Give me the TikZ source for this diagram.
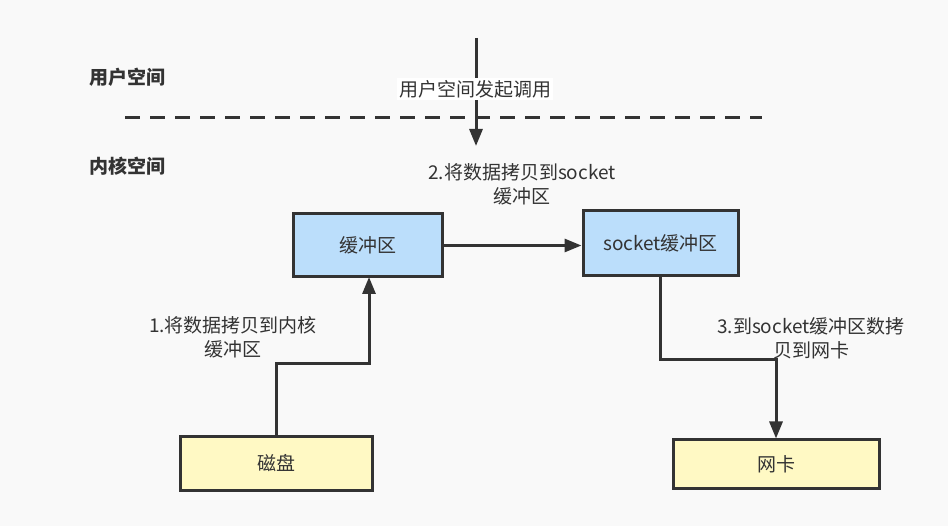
\documentclass[tikz,border=0pt]{standalone}
\usepackage{fontspec}
\setmainfont{Noto Sans CJK SC}
\usetikzlibrary{arrows.meta, positioning}
\definecolor{inkgray}{HTML}{333333}
\definecolor{bufblue}{HTML}{BBDEFB}
\definecolor{devyellow}{HTML}{FFF9C4}
\definecolor{paper}{HTML}{F9F9F9}

\begin{document}
\begin{tikzpicture}[x=1pt, y=-1pt,
    every node/.style={text=inkgray, font=\fontsize{19}{24}\selectfont},
    box/.style={draw=inkgray, line width=3pt, inner sep=0pt},
    bufbox/.style={box, fill=bufblue},
    devbox/.style={box, fill=devyellow},
    flow/.style={draw=inkgray, line width=3pt, -{Triangle[length=17pt, width=13pt]}},
    note/.style={align=center, inner sep=1pt}]
    \fill[paper] (0,0) rectangle (948,526);
    \useasboundingbox (0,0) rectangle (948,526);

    \node[font=\fontsize{19}{24}\selectfont\bfseries] (user) at (127,77) {用户空间};
    \node[font=\fontsize{19}{24}\selectfont\bfseries] (kernel) at (127,166) {内核空间};
    \coordinate (dashl) at (125,118);
    \coordinate (dashr) at (762,118);
    \draw[inkgray, line width=3pt, dash pattern=on 15pt off 10pt] (dashl) -- (dashr);

    \node[bufbox, minimum width=149pt, minimum height=63pt] (buf) at (367.5,245.5) {缓冲区};
    \node[bufbox, minimum width=155pt, minimum height=65pt] (sockbuf) at (660.5,243.5) {socket缓冲区};
    \node[devbox, minimum width=192pt, minimum height=53pt] (disk) at (276,463.5) {磁盘};
    \node[devbox, minimum width=206pt, minimum height=48pt] (nic) at (776,464) {网卡};

    \coordinate (call) at (476,38);
    \coordinate (callend) at (476,146);
    \draw[flow] (call) -- (callend);
    \node[fill=white, inner sep=2pt] (calltext) at (475,89) {用户空间发起调用};

    \path[flow] (disk.north) |- (369,364) -- (369,277);
    \path[flow] (buf.east) -- (sockbuf.west |- buf.east);
    \path[flow] (sockbuf.south) |- (776,360) -- (nic.north);

    \node[note] (step1) at (233,337) {1.将数据拷贝到内核\\缓冲区};
    \node[note] (step2) at (522,184) {2.将数据拷贝到socket\\缓冲区};
    \node[note] (step3) at (811,338) {3.到socket缓冲区数拷\\贝到网卡};

\end{tikzpicture}
\end{document}
